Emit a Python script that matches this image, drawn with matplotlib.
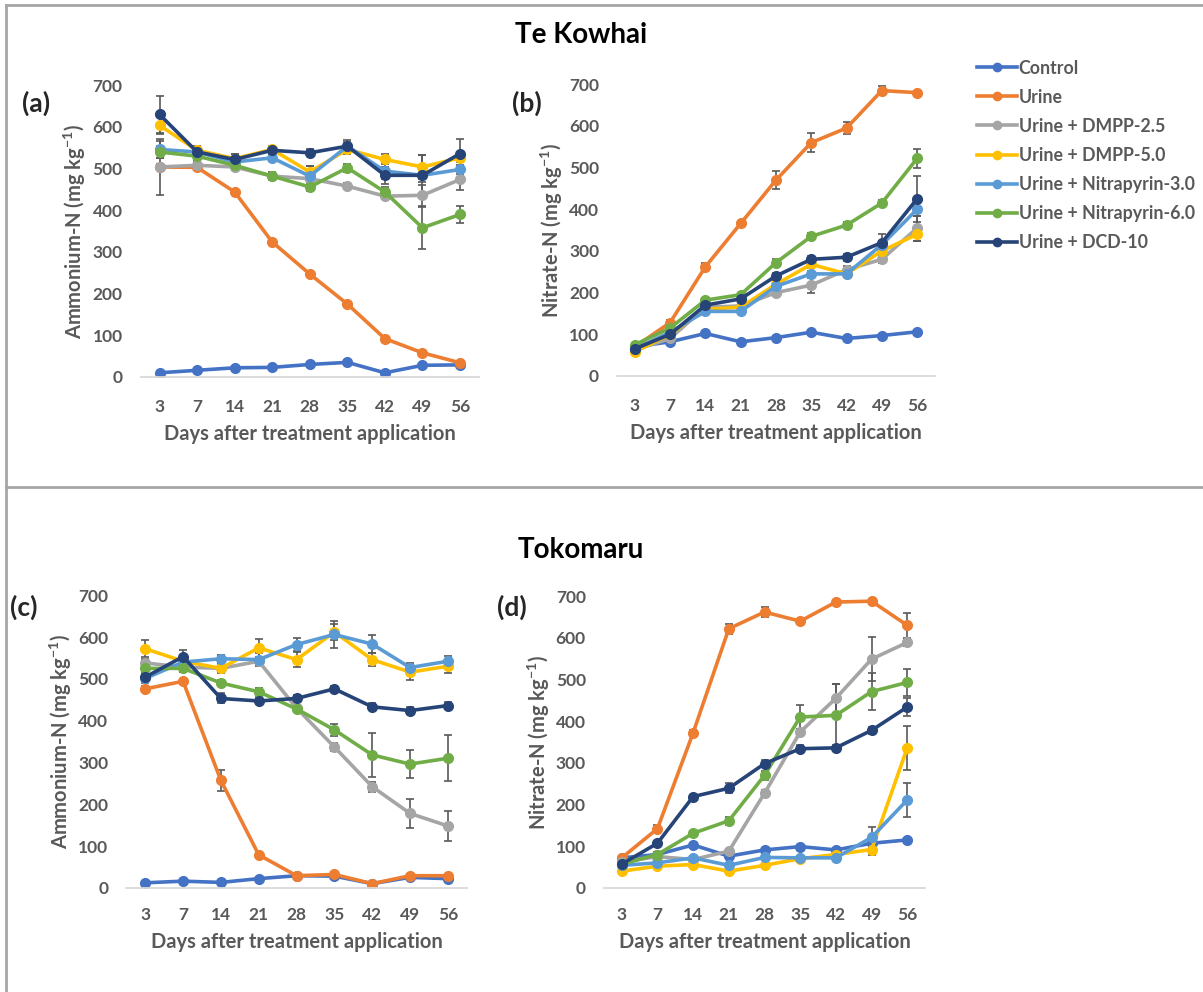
import matplotlib.pyplot as plt
from matplotlib.lines import Line2D
import numpy as np

# sampling days (categorical x axis)
days = ["3", "7", "14", "21", "28", "35", "42", "49", "56"]

treatments = ["Control", "Urine", "Urine + DMPP-2.5", "Urine + DMPP-5.0",
              "Urine + Nitrapyrin-3.0", "Urine + Nitrapyrin-6.0", "Urine + DCD-10"]
colors = ["#4472C4", "#ED7D31", "#A5A5A5", "#FFC000", "#5B9BD5", "#70AD47", "#264478"]

# Te Kowhai - ammonium-N (mg/kg)
tk_nh4 = [
    [10, 16, 22, 23, 30, 35, 10, 28, 29],
    [504, 503, 444, 324, 247, 175, 92, 58, 34],
    [504, 508, 504, 482, 476, 458, 434, 436, 474],
    [604, 544, 524, 546, 492, 546, 522, 504, 526],
    [546, 540, 516, 526, 482, 554, 494, 484, 498],
    [540, 530, 508, 482, 456, 502, 444, 358, 390],
    [630, 540, 522, 544, 538, 554, 484, 484, 536],
]
tk_nh4_err = [
    [2, 2, 2, 2, 2, 2, 2, 2, 2],
    [8, 6, 5, 5, 5, 5, 5, 5, 5],
    [67, 8, 8, 8, 8, 8, 8, 25, 25],
    [20, 10, 10, 8, 15, 10, 12, 28, 10],
    [20, 8, 8, 8, 25, 10, 20, 15, 10],
    [15, 10, 10, 10, 10, 10, 12, 50, 20],
    [45, 12, 12, 8, 8, 15, 20, 48, 34],
]

# Te Kowhai - nitrate-N (mg/kg)
tk_no3 = [
    [70, 82, 102, 82, 92, 105, 90, 97, 106],
    [70, 128, 262, 366, 470, 560, 595, 685, 680],
    [62, 90, 165, 168, 200, 218, 255, 280, 355],
    [58, 100, 160, 165, 220, 268, 245, 300, 340],
    [65, 105, 155, 155, 215, 245, 245, 315, 400],
    [75, 115, 182, 195, 272, 335, 362, 415, 522],
    [65, 100, 170, 185, 240, 280, 285, 320, 425],
]
tk_no3_err = [
    [3, 3, 3, 3, 3, 3, 3, 3, 3],
    [5, 6, 10, 6, 22, 22, 15, 10, 5],
    [4, 5, 5, 5, 8, 18, 8, 8, 30],
    [4, 5, 5, 5, 8, 8, 8, 8, 15],
    [4, 5, 5, 5, 8, 8, 8, 8, 15],
    [4, 5, 5, 5, 8, 8, 8, 8, 22],
    [4, 5, 5, 5, 8, 8, 8, 20, 55],
]

# Tokomaru - ammonium-N (mg/kg)
to_nh4 = [
    [12, 16, 13, 22, 29, 28, 10, 25, 22],
    [476, 494, 257, 79, 29, 32, 10, 29, 29],
    [538, 528, 525, 542, 430, 337, 242, 178, 148],
    [572, 542, 525, 574, 546, 612, 546, 516, 530],
    [501, 540, 548, 546, 582, 606, 583, 527, 542],
    [525, 525, 490, 469, 428, 378, 318, 296, 310],
    [504, 553, 453, 447, 453, 476, 433, 424, 436],
]
to_nh4_err = [
    [2, 2, 2, 2, 2, 2, 2, 2, 2],
    [8, 6, 26, 6, 5, 5, 5, 5, 5],
    [10, 8, 8, 8, 8, 10, 12, 35, 35],
    [20, 12, 12, 22, 18, 20, 15, 18, 15],
    [10, 10, 10, 15, 15, 32, 22, 12, 12],
    [8, 8, 8, 10, 8, 15, 52, 34, 55],
    [8, 15, 12, 8, 8, 8, 8, 8, 8],
]

# Tokomaru - nitrate-N (mg/kg)
to_no3 = [
    [72, 80, 103, 76, 91, 99, 91, 107, 115],
    [72, 142, 372, 622, 662, 640, 686, 688, 630],
    [62, 75, 68, 88, 227, 374, 455, 549, 589],
    [40, 52, 56, 40, 54, 70, 80, 92, 336],
    [54, 60, 72, 54, 73, 72, 72, 121, 211],
    [57, 80, 131, 161, 270, 410, 414, 471, 493],
    [57, 107, 219, 239, 298, 334, 336, 378, 434],
]
to_no3_err = [
    [3, 3, 3, 3, 3, 3, 3, 3, 3],
    [5, 8, 6, 12, 12, 5, 5, 5, 30],
    [4, 5, 5, 5, 8, 8, 35, 52, 8],
    [3, 3, 3, 3, 3, 3, 3, 12, 52],
    [3, 3, 3, 3, 3, 3, 3, 25, 40],
    [4, 5, 5, 10, 10, 28, 75, 45, 32],
    [4, 5, 5, 12, 8, 8, 8, 8, 22],
]

plt.rcParams['font.family'] = ['Lato', 'DejaVu Sans']
plt.rcParams['mathtext.fontset'] = 'custom'
plt.rcParams['mathtext.rm'] = 'Lato'
plt.rcParams['mathtext.bf'] = 'Lato:bold'
grey_txt = "#595959"

fig = plt.figure(figsize=(12.03, 9.92), dpi=100)

panels = [
    ([0.117, 0.620, 0.281, 0.294], tk_nh4, tk_nh4_err, "Ammonium-N (mg kg$^{\\mathbf{-1}}$)"),
    ([0.513, 0.621, 0.264, 0.294], tk_no3, tk_no3_err, "Nitrate-N (mg kg$^{\\mathbf{-1}}$)"),
    ([0.105, 0.105, 0.283, 0.295], to_nh4, to_nh4_err, "Ammonium-N (mg kg$^{\\mathbf{-1}}$)"),
    ([0.502, 0.105, 0.267, 0.294], to_no3, to_no3_err, "Nitrate-N (mg kg$^{\\mathbf{-1}}$)"),
]

x = np.arange(len(days))
axes = []
for i, (rect, vals, errs, ylab) in enumerate(panels):
    ax = fig.add_axes(rect)
    for name, col, y, e in zip(treatments, colors, vals, errs):
        ax.errorbar(x, y, yerr=e, color=col, lw=2.6, marker='o', ms=7,
                    ecolor="#595959", elinewidth=1.2, capsize=3, capthick=1.2,
                    label=name)
    ax.set_xlim(-0.5, len(days) - 0.5)
    ax.set_ylim(0, 700)
    ax.set_yticks(range(0, 701, 100))
    ax.set_xticks(x)
    ax.set_xticklabels(days)
    for s in ["top", "right", "left"]:
        ax.spines[s].set_visible(False)
    ax.spines["bottom"].set_color("#D9D9D9")
    ax.spines["bottom"].set_linewidth(1.3)
    ax.tick_params(length=0, labelsize=12.5, labelcolor=grey_txt)
    ax.tick_params(axis="y", pad=13)
    ax.tick_params(axis="x", pad=16 if i < 2 else 14)
    for lbl in ax.get_xticklabels() + ax.get_yticklabels():
        lbl.set_fontweight("bold")
    ax.set_xlabel("Days after treatment application", fontsize=14.5,
                  color=grey_txt, fontweight="bold", labelpad=6)
    ax.set_ylabel(ylab, fontsize=14.5, color=grey_txt, fontweight="bold", labelpad=3)
    axes.append(ax)

# panel tags
tag_kw = dict(fontsize=19, fontweight="bold", color="#262626", va="center")
fig.text(0.018, 0.896, "(a)", **tag_kw)
fig.text(0.426, 0.896, "(b)", **tag_kw)
fig.text(0.008, 0.388, "(c)", **tag_kw)
fig.text(0.413, 0.388, "(d)", **tag_kw)

# site titles
fig.text(0.483, 0.965, "Te Kowhai", fontsize=20, fontweight="bold", ha="center", va="center")
fig.text(0.483, 0.446, "Tokomaru", fontsize=20, fontweight="bold", ha="center", va="center")

# legend
handles = [Line2D([], [], color=c, lw=2.6, marker='o', ms=6) for c in colors]
leg = fig.legend(handles, treatments, loc="upper left", bbox_to_anchor=(0.812, 0.940),
                 frameon=False, fontsize=12.8, handlelength=2.25, handletextpad=0.1,
                 labelspacing=0.68, borderpad=0, borderaxespad=0)
for t in leg.get_texts():
    t.set_color(grey_txt)
    t.set_fontweight("bold")

# outer frame and divider
frame_kw = dict(color="#A6A6A6", lw=2, transform=fig.transFigure)
fig.add_artist(Line2D([0.005, 1.0], [0.995, 0.995], **frame_kw))
fig.add_artist(Line2D([0.005, 0.005], [0.0, 0.995], **frame_kw))
fig.add_artist(Line2D([0.005, 1.0], [0.509, 0.509], **frame_kw))

fig.savefig("out.png", dpi=100)
